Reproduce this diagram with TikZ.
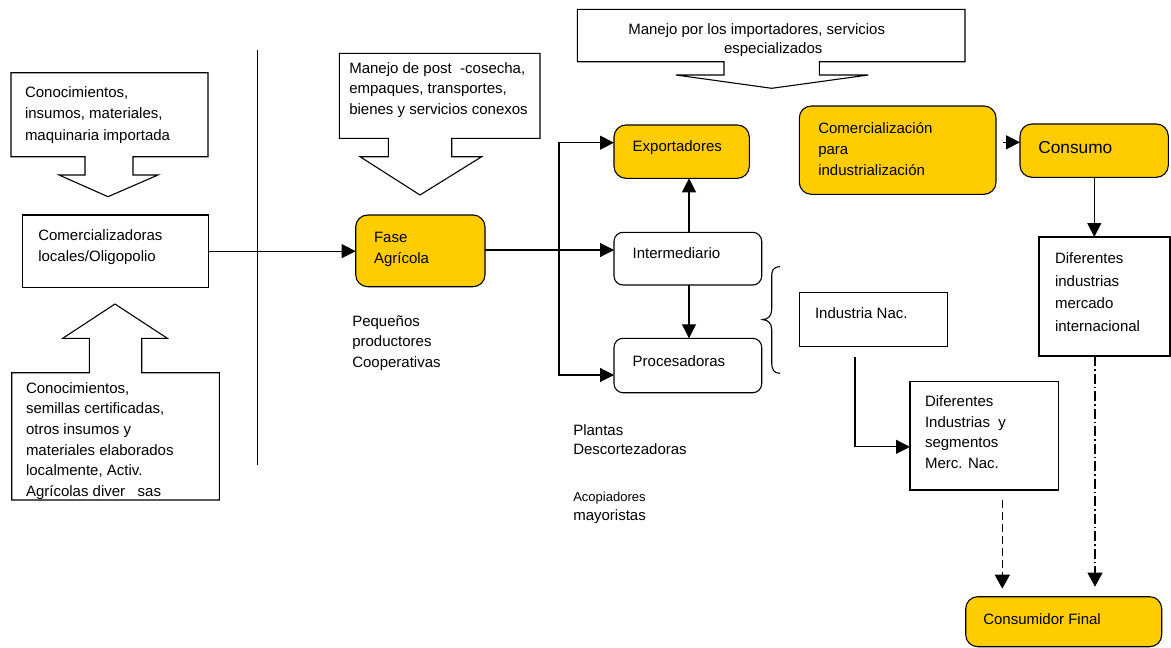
\documentclass[tikz,border=0pt]{standalone}
\usepackage{fontspec}
\setmainfont{Liberation Sans}
\usetikzlibrary{arrows.meta}
\definecolor{amber}{RGB}{255,204,0}
% multi-line text whose baseline is that of its first line
\newcommand\txtlines[1]{\begin{tabular}[t]{@{}l@{}}#1\end{tabular}}
\begin{document}
\begin{tikzpicture}[x=1pt,y=-1pt,
  every node/.style={inner sep=0pt, outer sep=0pt},
  line/.style={line width=1.1pt},
  arr/.style={line width=1.1pt,-{Triangle[length=14pt,width=14pt]}},
  dims/.style 2 args={minimum width=#1, minimum height=#2},
  plain/.style={draw, line width=1.1pt, anchor=north west},
  soft/.style={plain, rounded corners=9pt},
  hot/.style={plain, fill=amber, rounded corners=12pt},
  txt/.style={anchor=base west, font=\fontsize{15}{20.6}\selectfont},
  dashline/.style={line width=1.1pt, dash pattern=on 8pt off 4pt},
  dotline/.style={line width=1.1pt, dash pattern=on 10pt off 3pt on 1.5pt off 3pt},
]
\useasboundingbox (0,0) rectangle (1171,648);

% ---- input callouts (box with block arrow) ----
\draw[line] (11,72.7) -- (208,72.7) -- (208,156.7) -- (133,156.7) -- (133,175) -- (158,175)
  -- (108,196.7) -- (59,175) -- (85,175) -- (85,156.7) -- (11,156.7) -- cycle;
\node[txt, font=\fontsize{15}{21.5}\selectfont] (t1) at (25,97)
  {\txtlines{Conocimientos,\\insumos, materiales,\\maquinaria importada}};

\draw[line] (11.7,500) -- (219.3,500) -- (219.3,372.7) -- (141.7,372.7) -- (141.7,338.3) -- (167.3,338.3)
  -- (115,304) -- (62.7,338.3) -- (89.3,338.3) -- (89.3,372.7) -- (11.7,372.7) -- cycle;
\node[txt] (t2) at (26,393.3)
  {\txtlines{Conocimientos,\\semillas certificadas,\\otros insumos y\\materiales elaborados\\localmente, Activ.\\Agrícolas diver\ \ \ sas}};

\draw[line] (339.3,53.3) -- (540,53.3) -- (540,138.3) -- (451.7,138.3) -- (451.7,156.7) -- (481.7,156.7)
  -- (420,195) -- (360,156.7) -- (388.3,156.7) -- (388.3,138.3) -- (339.3,138.3) -- cycle;
\node[txt] (t3) at (349.3,73.3)
  {\txtlines{Manejo de post\ \ -cosecha,\\empaques, transportes,\\bienes y servicios conexos}};

\draw[line] (577.3,9.3) -- (965,9.3) -- (965,61.7) -- (819.3,61.7) -- (819.3,75) -- (868.3,75)
  -- (771.7,88.3) -- (676,75) -- (724,75) -- (724,61.7) -- (577.3,61.7) -- cycle;
\node[txt] (t4a) at (628.3,34.3) {Manejo por los importadores, servicios};
\node[txt] (t4b) at (724,53.3) {especializados};

% ---- separator ----
\coordinate (sepTop) at (257.7,50);
\coordinate (sepBot) at (257.7,465);
\draw[line] (sepTop) -- (sepBot);

% ---- boxes ----
\node[plain, dims={185.6}{72.3}] (comer) at (22.7,215) {};
\node[txt] at (38.3,240.5) {\txtlines{Comercializadoras\\locales/Oligopolio}};

\node[hot, dims={129.3}{71.7}] (fase) at (355.7,215) {};
\node[txt] at (374,242.7) {\txtlines{Fase\\Agrícola}};
\node[txt] (peq) at (352.3,326) {\txtlines{Pequeños\\productores\\Cooperativas}};

\node[hot, dims={135.3}{53.3}] (exp) at (614,125) {};
\node[txt] at (632.7,151) {Exportadores};

\node[soft, dims={147.7}{52.7}] (inter) at (614,232.3) {};
\node[txt] at (632.7,258.3) {Intermediario};

\node[soft, dims={147.7}{54.4}] (proc) at (614,338.3) {};
\node[txt] at (632.7,366.7) {Procesadoras};

\node[txt, font=\fontsize{15}{19.3}\selectfont] (plantas) at (573.3,435) {\txtlines{Plantas\\Descortezadoras}};
\node[txt, font=\fontsize{13}{15}\selectfont] (acop) at (573.3,501.7) {Acopiadores};
\node[txt] (mayor) at (573.3,520.7) {mayoristas};

\node[plain, dims={148}{54}] (indnac) at (799.3,292.7) {};
\node[txt] at (815,318.3) {Industria Nac.};

\node[plain, dims={148.3}{108.3}] (difnac) at (910,381.7) {};
\node[txt] at (925,406.7) {\txtlines{Diferentes\\Industrias\ \ y\\segmentos\\Merc. Nac.}};

\node[hot, dims={196.7}{88.3}] (comind) at (799.3,106) {};
\node[txt, font=\fontsize{15}{21}\selectfont] at (818.3,133.3) {\txtlines{Comercialización\\para\\industrialización}};

\node[hot, dims={148.3}{53.3}] (consumo) at (1020,124) {};
\node[txt, font=\fontsize{17.3}{20}\selectfont] at (1038.3,153.3) {Consumo};

\node[plain, dims={131}{119}] (difint) at (1039,237) {};
\node[txt, font=\fontsize{15}{22.7}\selectfont] at (1055,263.3) {\txtlines{Diferentes\\industrias\\mercado\\internacional}};

\node[hot, dims={196}{50}] (final) at (965.7,596.7) {};
\node[txt] at (983.3,624) {Consumidor Final};

% ---- connectors ----
\draw[arr] (comer.east) -- (comer.east -| fase.west);
\coordinate (split) at (559,250);
\draw[arr] (fase.east |- split) -- (split -| inter.west);
\coordinate (splitTop) at (559,142.7);
\coordinate (splitBot) at (559,375);
\draw[arr] (split) -- (splitTop) -- (splitTop -| exp.west);
\draw[arr] (split) -- (splitBot) -- (splitBot -| proc.west);
\draw[arr] (689,0 |- inter.north) -- (689,0 |- exp.south);
\draw[arr] (689,0 |- inter.south) -- (689,0 |- proc.north);

% brace grouping the chain toward national industry
\draw[line] (780,266.7) .. controls (773,267) and (771.7,270) .. (771.7,278) -- (771.7,309)
  .. controls (771.7,316) and (768,319.3) .. (762.7,319.6)
  .. controls (768,320) and (771.7,323) .. (771.7,330) -- (771.7,362)
  .. controls (771.7,370) and (774,373.3) .. (780,373.3);

\coordinate (indOut) at (855,356.7);
\draw[arr] (indOut) |- ([yshift=-11pt]difnac.west);

\coordinate (ciOut) at (1003.3,142.3);
\draw[arr] (ciOut) -- (ciOut -| consumo.west);
\draw[arr] (1094.3,0 |- consumo.south) -- (1094.3,0 |- difint.north);

\coordinate (dnOut) at (1002.3,500);
\draw[dashline, -{Triangle[length=14pt,width=15pt]}, shorten >=8pt] (dnOut) -- (dnOut |- final.north);
\draw[dotline, -{Triangle[length=14pt,width=15pt]}, shorten >=10pt] (1095,0 |- difint.south) -- (1095,0 |- final.north);

\end{tikzpicture}
\end{document}
